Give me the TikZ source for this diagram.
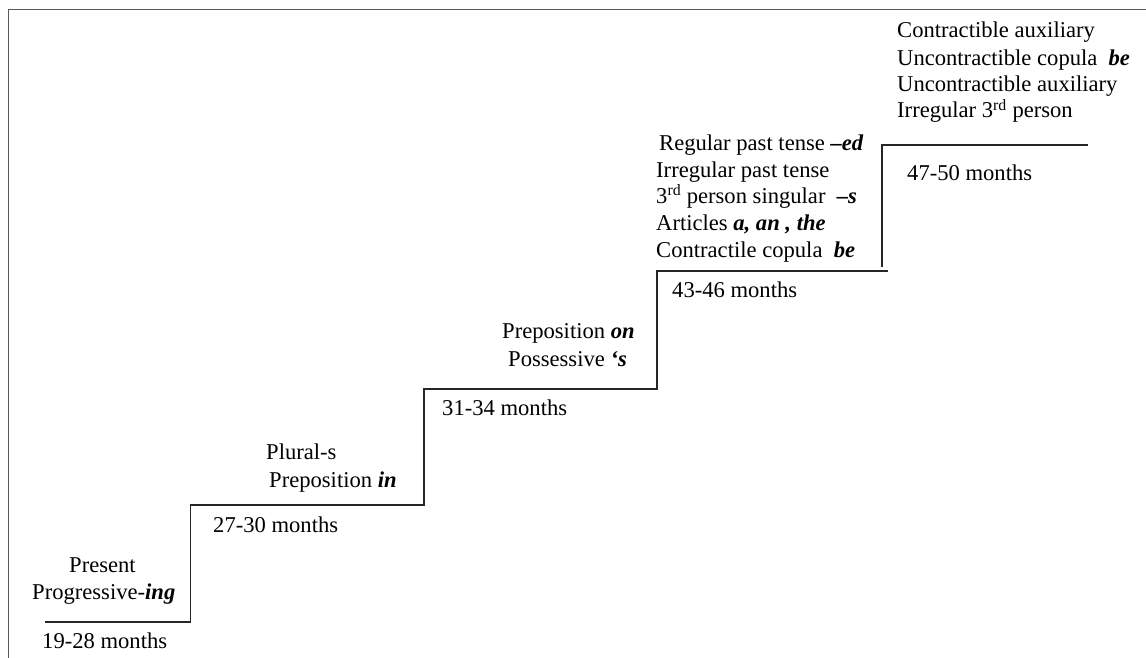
\documentclass[tikz,border=0pt]{standalone}
\usepackage{fontspec}
\setmainfont{Liberation Serif}
\newcommand{\bi}[1]{\textbf{\textit{#1}}}
\begin{document}
\begin{tikzpicture}[x=1pt,y=-1pt,
  lbl/.style={anchor=base west,inner sep=0pt,font=\fontsize{22.6}{26.7}\selectfont},
  stair/.style={draw=black!85,line width=1.4pt},
  frame/.style={draw=black!65,line width=1.6pt}]
\useasboundingbox (0,0) rectangle (1146,658);
\draw[frame] (8.5,658) -- (8.5,9.5) -- (1146,9.5);
% stairs
\draw[stair] (45,622) -- (190.5,622) -- (190.5,505) -- (424,505) -- (424,389) -- (657,389) -- (657,271) -- (888,271);
\draw[stair] (882,267) -- (882,145) -- (1088,145);
% labels
\node[lbl] (n19) at (42,648) {19-28 months};
\node[lbl] (pres1) at (69,572) {Present};
\node[lbl] (pres2) at (32,599) {Progressive-\bi{ing}};
\node[lbl] (n27) at (213,532) {27-30 months};
\node[lbl] (pl1) at (266,459) {Plural-s};
\node[lbl] (pl2) at (269,487) {Preposition \bi{in}};
\node[lbl] (n31) at (442,415) {31-34 months};
\node[lbl] (po1) at (502,338) {Preposition \bi{on}};
\node[lbl] (po2) at (508,366) {Possessive \bi{‘s}};
\node[lbl] (n43) at (672,297) {43-46 months};
\node[lbl] (r1) at (659,150) {Regular past tense \bi{–ed}};
\node[lbl] (r2) at (656,177) {Irregular past tense};
\node[lbl] (r3) at (656,203) {3\textsuperscript{rd} person singular~ \bi{–s}};
\node[lbl] (r4) at (656,230) {Articles \bi{a, an , the}};
\node[lbl] (r5) at (656,257) {Contractile copula~ \bi{be}};
\node[lbl] (c1) at (897,38) {Contractible auxiliary};
\node[lbl] (c2) at (897,66) {Uncontractible copula~ \bi{be}};
\node[lbl] (c3) at (897,92) {Uncontractible auxiliary};
\node[lbl] (c4) at (897,118) {Irregular 3\textsuperscript{rd} person};
\node[lbl] (n47) at (907,180) {47-50 months};
\end{tikzpicture}
\end{document}
